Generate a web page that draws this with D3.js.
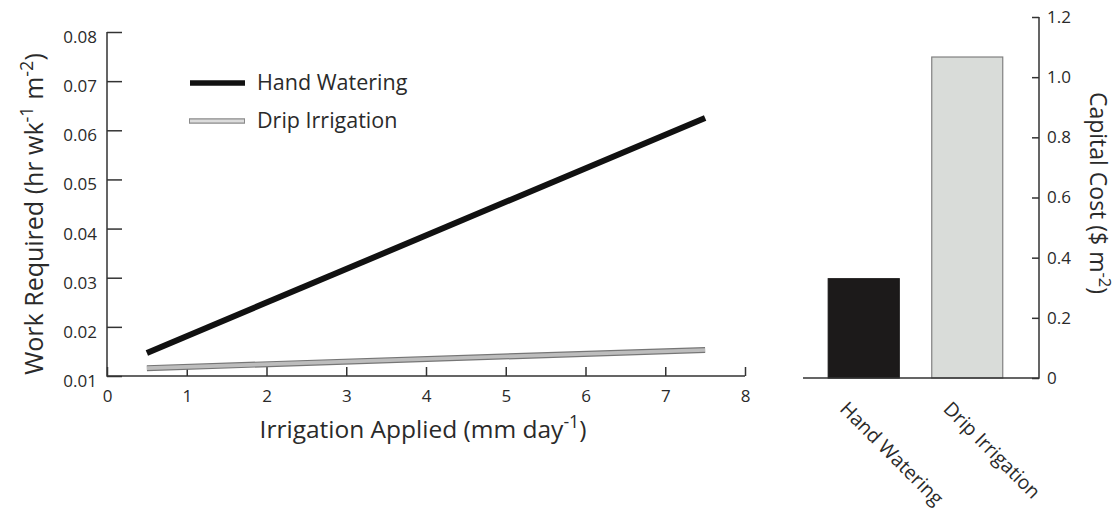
<!DOCTYPE html>
<html>
<head>
<meta charset="utf-8">
<script src="https://cdn.jsdelivr.net/npm/d3@7/dist/d3.min.js"></script>
<style>
  html, body { margin: 0; padding: 0; background: #fff; }
  svg { display: block; font-family: "Open Sans", "Noto Sans", sans-serif; }
</style>
</head>
<body>
<svg id="chart" width="1119" height="514"></svg>
<script>
// Work required vs irrigation applied (straight-line fits, read at end points)
const irrigationX = [0.5, 7.5];
const handWork = [0.0147, 0.0625];
const dripWork = [0.0116, 0.0153];

// Capital cost per method
const methods = ["Hand Watering", "Drip Irrigation"];
const capitalCost = [0.33, 1.067];

const workTicks = [0.01, 0.02, 0.03, 0.04, 0.05, 0.06, 0.07, 0.08];
const irrigationTicks = [0, 1, 2, 3, 4, 5, 6, 7, 8];
const costTicks = [0, 0.2, 0.4, 0.6, 0.8, 1.0, 1.2];

const svg = d3.select("#chart");
const axisColor = "#333";
const textColor = "#2a2a2a";

// ---------- Left panel: line chart ----------
const x = d3.scaleLinear().domain([0, 8]).range([107, 745]);
const y = d3.scaleLinear().domain([0.01, 0.08]).range([376, 32]);

const left = svg.append("g");

const yAxis = left.append("g")
  .attr("transform", `translate(${x(0)},0)`)
  .call(d3.axisLeft(y).tickValues(workTicks).tickSize(-15).tickPadding(26)
    .tickFormat(d3.format(".2f")));
yAxis.select(".domain").remove();
yAxis.selectAll(".tick line").attr("stroke", axisColor).attr("stroke-width", 1.5);
yAxis.selectAll(".tick text").attr("font-size", 17).attr("fill", textColor)
  .attr("font-family", "Open Sans").attr("dy", "0.62em").attr("text-anchor", "end")
  .attr("x", -10);

const xAxis = left.append("g")
  .attr("transform", `translate(0,${y(0.01)})`)
  .call(d3.axisBottom(x).tickValues(irrigationTicks).tickSize(-9).tickPadding(14));
xAxis.select(".domain").remove();
xAxis.selectAll(".tick line").attr("stroke", axisColor).attr("stroke-width", 1.5);
xAxis.selectAll(".tick text").attr("font-size", 17).attr("fill", textColor)
  .attr("font-family", "Open Sans").attr("y", 14).attr("dy", "0.71em");

// axis lines
left.append("path")
  .attr("d", `M${x(0)},${y(0.08)}V${y(0.01)}H${x(8)}`)
  .attr("fill", "none").attr("stroke", axisColor).attr("stroke-width", 1.5);

const line = d3.line().x(d => x(d[0])).y(d => y(d[1]));
const handPts = irrigationX.map((v, i) => [v, handWork[i]]);
const dripPts = irrigationX.map((v, i) => [v, dripWork[i]]);

left.append("path").attr("d", line(dripPts))
  .attr("fill", "none").attr("stroke", "#767676").attr("stroke-width", 6);
left.append("path").attr("d", line(dripPts))
  .attr("fill", "none").attr("stroke", "#bdbdbd").attr("stroke-width", 3.6);
left.append("path").attr("d", line(handPts))
  .attr("fill", "none").attr("stroke", "#111").attr("stroke-width", 6);

// legend
const legend = left.append("g");
legend.append("line").attr("x1", 190).attr("x2", 245).attr("y1", 83).attr("y2", 83)
  .attr("stroke", "#111").attr("stroke-width", 5.5);
legend.append("line").attr("x1", 189).attr("x2", 245).attr("y1", 121).attr("y2", 121)
  .attr("stroke", "#8a8a8a").attr("stroke-width", 5.5);
legend.append("line").attr("x1", 190).attr("x2", 244).attr("y1", 121).attr("y2", 121)
  .attr("stroke", "#dcdcdc").attr("stroke-width", 3);
legend.append("text").attr("x", 257).attr("y", 90).attr("font-size", 21.5)
  .attr("fill", textColor).text(methods[0]);
legend.append("text").attr("x", 257).attr("y", 128).attr("font-size", 21.5)
  .attr("fill", textColor).text(methods[1]);

// axis titles with superscripts
function sup(textSel, parts) {
  parts.forEach(p => {
    const t = textSel.append("tspan").text(p.t);
    if (p.sup) t.attr("font-size", "0.72em").attr("baseline-shift", "55%");
  });
}

const yTitle = left.append("text")
  .attr("transform", "translate(43,214) rotate(-90)")
  .attr("text-anchor", "middle").attr("font-size", 25).attr("fill", textColor);
sup(yTitle, [{t: "Work Required (hr wk"}, {t: "-1", sup: true}, {t: " m"}, {t: "-2", sup: true}, {t: ")"}]);

const xTitle = left.append("text")
  .attr("x", 423).attr("y", 438)
  .attr("text-anchor", "middle").attr("font-size", 24.5).attr("fill", textColor);
sup(xTitle, [{t: "Irrigation Applied (mm day"}, {t: "-1", sup: true}, {t: ")"}]);

// ---------- Right panel: bar chart ----------
const xb = d3.scaleBand().domain(methods).range([812, 1019])
  .paddingInner(0.314).paddingOuter(0.157);
const yb = d3.scaleLinear().domain([0, 1.2]).range([378, 17]);

const right = svg.append("g");

right.selectAll("rect").data(methods).join("rect")
  .attr("x", d => xb(d))
  .attr("y", (d, i) => yb(capitalCost[i]))
  .attr("width", xb.bandwidth())
  .attr("height", (d, i) => yb(0) - yb(capitalCost[i]))
  .attr("fill", (d, i) => i === 0 ? "#1c1a1a" : "#d9dcd9")
  .attr("stroke", (d, i) => i === 0 ? "#1c1a1a" : "#808080")
  .attr("stroke-width", 1.2);

const yAxisR = right.append("g")
  .attr("transform", "translate(1039,0)")
  .call(d3.axisRight(yb).tickValues(costTicks).tickSize(-7).tickPadding(16)
    .tickFormat(d => d === 0 ? "0" : d3.format(".1f")(d)));
yAxisR.select(".domain").remove();
yAxisR.selectAll(".tick line").attr("stroke", axisColor).attr("stroke-width", 1.5);
yAxisR.selectAll(".tick text").attr("font-size", 17).attr("fill", textColor)
  .attr("font-family", "Open Sans").attr("x", 8);

right.append("path")
  .attr("d", `M803,${yb(0)}H1039V${yb(1.2)}`)
  .attr("fill", "none").attr("stroke", axisColor).attr("stroke-width", 1.5);

right.selectAll("text.cat").data(methods).join("text")
  .attr("class", "cat")
  .attr("transform", d => `translate(${xb(d) + xb.bandwidth() / 2 - 25},410) rotate(45)`)
  .attr("font-size", 19.5).attr("fill", textColor)
  .text(d => d);

const rTitle = right.append("text")
  .attr("transform", "translate(1090,193) rotate(90)")
  .attr("text-anchor", "middle").attr("font-size", 23).attr("fill", textColor);
sup(rTitle, [{t: "Capital Cost ($ m"}, {t: "-2", sup: true}, {t: ")"}]);
</script>
</body>
</html>
